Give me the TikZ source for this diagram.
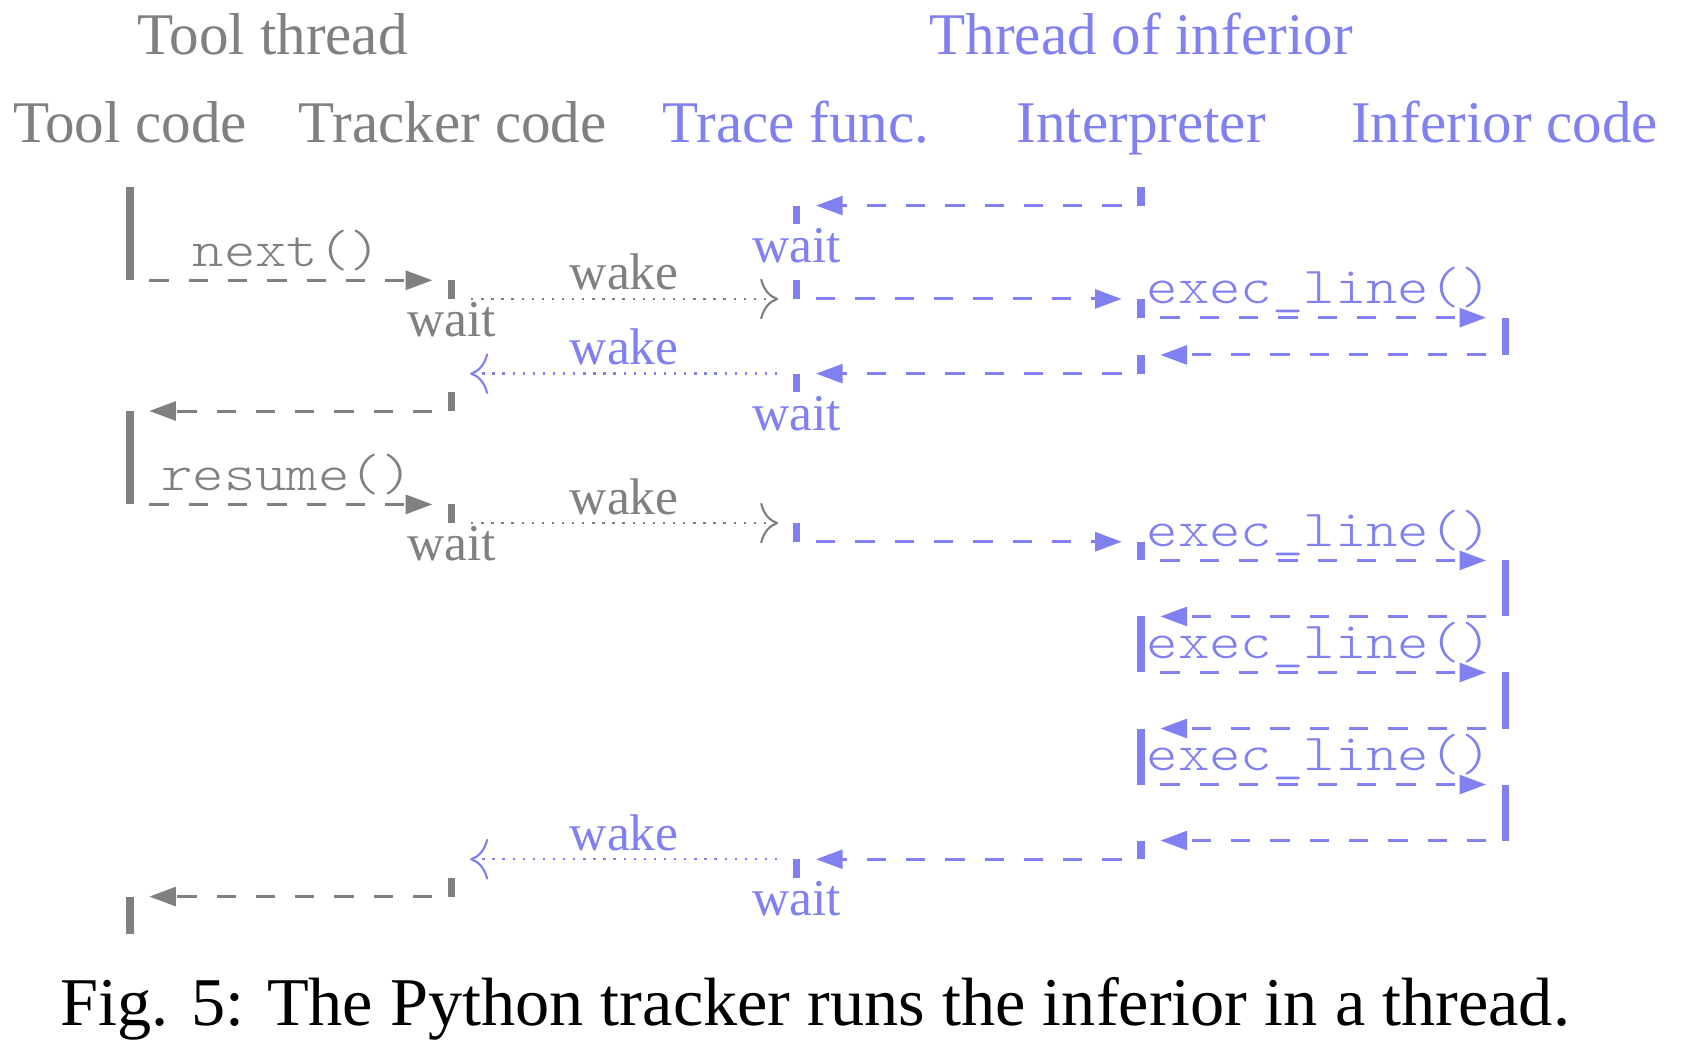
\documentclass[tikz,border=0pt]{standalone}
\usepackage{fontspec}
\setmainfont{Liberation Serif}
\newfontfamily\codefont[FakeStretch=1.15]{lmmonolt10-regular.otf}
\usetikzlibrary{arrows.meta}

\definecolor{toolgray}{RGB}{128,128,128}
\definecolor{infblue}{RGB}{128,128,240}

% lifeline positions and the vertical step of the message rows
\newcommand\laneTool{121}
\newcommand\laneTrk{420.6}
\newcommand\laneTrc{741.8}
\newcommand\laneInt{1062.5}
\newcommand\laneInf{1401.8}
\newcommand\evt[3]{\coordinate (#1) at ({#2},{174+17.39*#3});}

\tikzset{
  bar/.style={line width=1.7pt},
  call/.style={line width=0.7pt, dash pattern=on 4.5pt off 4.65pt,
    -{Triangle[length=6.2pt,width=4.4pt]}, shorten <=4.5pt, shorten >=4.5pt},
  signal/.style={line width=0.55pt, dash pattern=on 0.55pt off 1.8pt,
    -{To[length=4.2pt,width=9.5pt,line width=0.5pt]}, shorten <=4.5pt, shorten >=4.3pt},
  head/.style={anchor=base, inner sep=0pt, font=\fontsize{13.75}{16}\selectfont},
  note/.style={anchor=base, inner sep=0pt, font=\fontsize{12}{14}\selectfont},
  code/.style={anchor=base, inner sep=0pt, font=\codefont\fontsize{12.1}{14}\selectfont},
  codelab/.style={code, midway, yshift=3.2pt, xshift=-0.9pt},
  wakelab/.style={note, midway, yshift=2.1pt},
}

\begin{document}
\begin{tikzpicture}[x=0.25pt, y=-0.25pt]
\useasboundingbox (0,0) rectangle (1568,989);

% column headings
\node[head, text=toolgray] (hTool) at (254,51) {Tool thread};
\node[head, text=infblue] (hInf) at (1062.5,51) {Thread of inferior};
\node[head, text=toolgray] (hToolCode) at (121,133) {Tool code};
\node[head, text=toolgray] (hTrk) at (421.5,133) {Tracker code};
\node[head, text=infblue] (hTrc) at (741,133) {Trace func.};
\node[head, text=infblue] (hInt) at (1062.5,133) {Interpreter};
\node[head, text=infblue] (hInfCode) at (1401,133) {Inferior code};

% event points on each lifeline
\evt{t0}{\laneTool}{0} \evt{t5}{\laneTool}{5} \evt{t12}{\laneTool}{12}
\evt{t17}{\laneTool}{17} \evt{t38}{\laneTool}{38} \evt{t40}{\laneTool}{40}

\evt{k5}{\laneTrk}{5} \evt{k6}{\laneTrk}{6} \evt{k10}{\laneTrk}{10}
\evt{k11}{\laneTrk}{11} \evt{k12}{\laneTrk}{12} \evt{k17}{\laneTrk}{17}
\evt{k18}{\laneTrk}{18} \evt{k36}{\laneTrk}{36} \evt{k37}{\laneTrk}{37}
\evt{k38}{\laneTrk}{38}

\evt{f1}{\laneTrc}{1} \evt{f2}{\laneTrc}{2} \evt{f5}{\laneTrc}{5}
\evt{f6}{\laneTrc}{6} \evt{f10}{\laneTrc}{10} \evt{f11}{\laneTrc}{11}
\evt{f18}{\laneTrc}{18} \evt{f19}{\laneTrc}{19} \evt{f36}{\laneTrc}{36}
\evt{f37}{\laneTrc}{37}

\evt{i0}{\laneInt}{0} \evt{i1}{\laneInt}{1} \evt{i6}{\laneInt}{6}
\evt{i7}{\laneInt}{7} \evt{i9}{\laneInt}{9} \evt{i10}{\laneInt}{10}
\evt{i19}{\laneInt}{19} \evt{i20}{\laneInt}{20} \evt{i23}{\laneInt}{23}
\evt{i26}{\laneInt}{26} \evt{i29}{\laneInt}{29} \evt{i32}{\laneInt}{32}
\evt{i35}{\laneInt}{35} \evt{i36}{\laneInt}{36}

\evt{c7}{\laneInf}{7} \evt{c9}{\laneInf}{9} \evt{c20}{\laneInf}{20}
\evt{c23}{\laneInf}{23} \evt{c26}{\laneInf}{26} \evt{c29}{\laneInf}{29}
\evt{c32}{\laneInf}{32} \evt{c35}{\laneInf}{35}

% activation bars of the tool thread
\begin{scope}[toolgray, bar]
  \draw (t0) -- (t5);   \draw (t12) -- (t17); \draw (t38) -- (t40);
  \draw (k5) -- (k6);   \draw (k11) -- (k12); \draw (k17) -- (k18);
  \draw (k37) -- (k38);
\end{scope}

% activation bars of the inferior's thread
\begin{scope}[infblue, bar]
  \draw (f1) -- (f2);   \draw (f5) -- (f6);   \draw (f10) -- (f11);
  \draw (f18) -- (f19); \draw (f36) -- (f37);
  \draw (i0) -- (i1);   \draw (i6) -- (i7);   \draw (i9) -- (i10);
  \draw (i19) -- (i20); \draw (i23) -- (i26); \draw (i29) -- (i32);
  \draw (i35) -- (i36);
  \draw (c7) -- (c9);   \draw (c20) -- (c23); \draw (c26) -- (c29);
  \draw (c32) -- (c35);
\end{scope}

% calls and returns in the tool thread
\begin{scope}[toolgray]
  \draw[call] (t5) -- (k5) node[codelab] (lNext) {next()};
  \draw[call] (k12) -- (t12);
  \draw[call] (t17) -- (k17) node[codelab] (lResume) {resume()};
  \draw[call] (k38) -- (t38);
  \draw[signal] (k6) -- (f6) node[wakelab] (wk1) {wake};
  \draw[signal] (k18) -- (f18) node[wakelab] (wk3) {wake};
  \node[note] (wt1) at ([yshift=-8.8pt]k6) {wait};
  \node[note] (wt3) at ([yshift=-8.8pt]k18) {wait};
\end{scope}

% calls and returns in the inferior's thread
\begin{scope}[infblue]
  \draw[call] (i1) -- (f1);
  \draw[call] (f6) -- (i6);
  \draw[call] (i7) -- (c7) node[codelab] (lExec1) {exec\_line()};
  \draw[call] (c9) -- (i9);
  \draw[call] (i10) -- (f10);
  \draw[call] (f19) -- (i19);
  \draw[call] (i20) -- (c20) node[codelab] (lExec2) {exec\_line()};
  \draw[call] (c23) -- (i23);
  \draw[call] (i26) -- (c26) node[codelab] (lExec3) {exec\_line()};
  \draw[call] (c29) -- (i29);
  \draw[call] (i32) -- (c32) node[codelab] (lExec4) {exec\_line()};
  \draw[call] (c35) -- (i35);
  \draw[call] (i36) -- (f36);
  \draw[signal] (f10) -- (k10) node[wakelab] (wk2) {wake};
  \draw[signal] (f36) -- (k36) node[wakelab] (wk4) {wake};
  \node[note] (wt0) at ([yshift=-8.8pt]f2) {wait};
  \node[note] (wt2) at ([yshift=-8.8pt]f11) {wait};
  \node[note] (wt4) at ([yshift=-8.8pt]f37) {wait};
\end{scope}

% caption
\node[anchor=base, inner sep=0pt, font=\fontsize{15.9}{18}\selectfont] (caption)
  at (759,955) {Fig. 5: The Python tracker runs the inferior in a thread.};
\end{tikzpicture}
\end{document}
